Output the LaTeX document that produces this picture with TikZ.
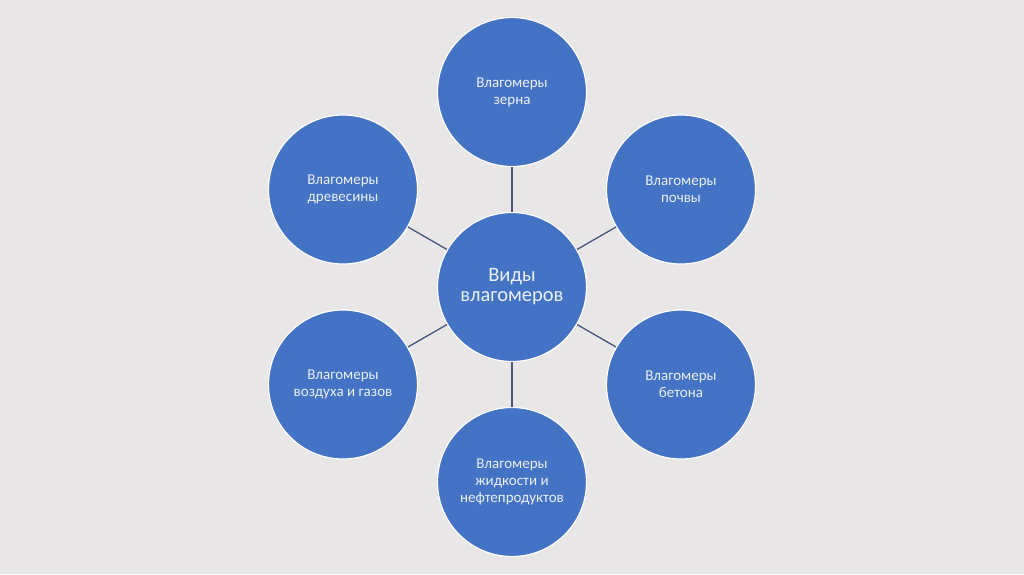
\documentclass[tikz,border=0pt]{standalone}
\usepackage{fontspec}
\setmainfont{Carlito}
\definecolor{bg}{RGB}{232,230,230}
\definecolor{cfill}{RGB}{68,114,196}
\definecolor{link}{RGB}{70,85,125}
\definecolor{txt}{RGB}{236,240,248}
\begin{document}
\begin{tikzpicture}[x=1pt,y=-1pt,
  bubble/.style={circle, fill=cfill, draw=white, line width=1.2pt, minimum size=149pt, inner sep=0pt, text=txt, align=center, font=\fontsize{15}{16.8}\selectfont},
  hub/.style={bubble, font=\fontsize{20.5}{20}\selectfont},
  link/.style={draw=link, line width=1.3pt}]
\fill[bg] (0,0) rectangle (1024,574);
\useasboundingbox (0,0) rectangle (1024,574);
\node[hub] (c) at (512,287) {Виды\\влагомеров};
\node[bubble] (n1) at (512,92) {Влагомеры\\зерна};
\node[bubble] (n2) at (681,189.5) {Влагомеры\\почвы};
\node[bubble] (n3) at (681,384.5) {Влагомеры\\бетона};
\node[bubble] (n4) at (512,482) {Влагомеры\\жидкости и\\нефтепродуктов};
\node[bubble] (n5) at (343,384.5) {Влагомеры\\воздуха и газов};
\node[bubble] (n6) at (343,189.5) {Влагомеры\\древесины};
\foreach \n in {n1,n2,n3,n4,n5,n6} \draw[link] (c) -- (\n);
\end{tikzpicture}
\end{document}
